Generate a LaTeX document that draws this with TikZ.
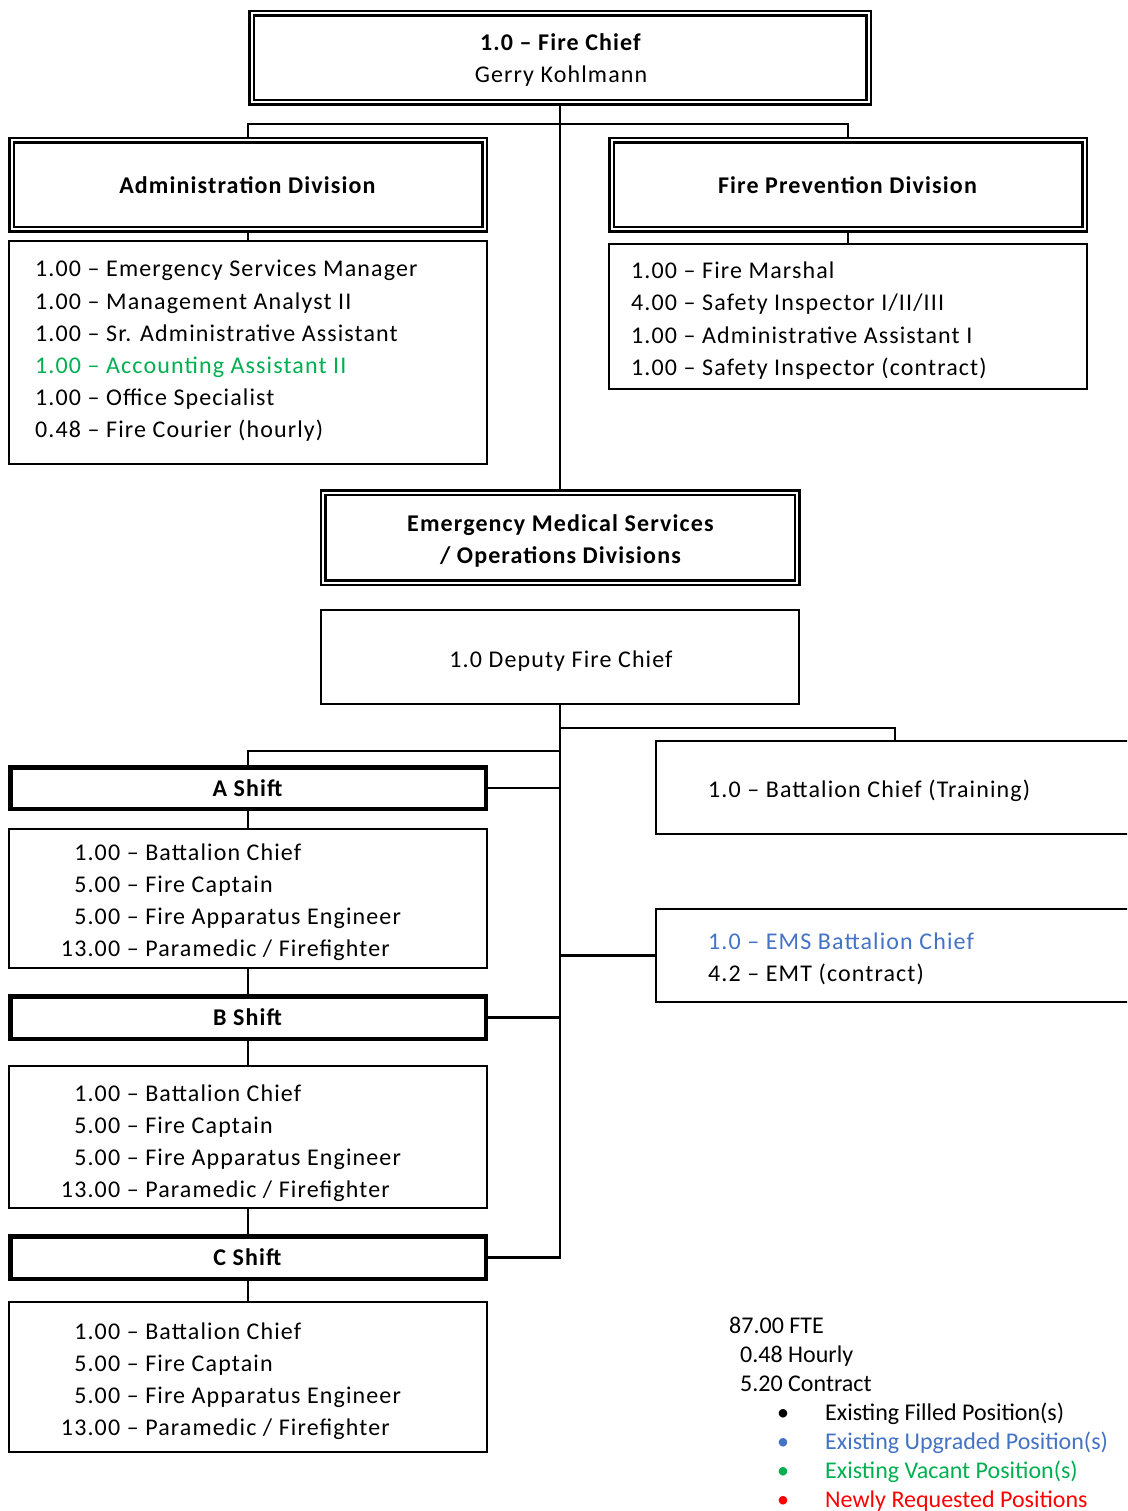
\documentclass[tikz,border=0pt]{standalone}
\usepackage{fontspec}
\setmainfont{Carlito}
\newfontfamily\spfont{Carlito}[LetterSpace=4.7]
\definecolor{vgreen}{HTML}{00B050}
\definecolor{ublue}{HTML}{4472C4}
\definecolor{nred}{HTML}{FF0000}
\tikzset{
  bigf/.style={font=\fontsize{24}{32}\selectfont\spfont},
  legf/.style={font=\fontsize{24}{29}\selectfont},
  dbox/.style={draw, double, line width=2.5pt, double distance=2pt, inner sep=0pt, outer sep=3.5pt, bigf, align=center},
  sbox/.style={draw, line width=2pt, inner sep=0pt, outer sep=1pt, bigf, align=center},
  shbox/.style={draw, line width=4.5pt, inner sep=0pt, outer sep=2.25pt, bigf, align=center},
  item/.style={bigf, inner sep=0pt, anchor=base west},
  citem/.style={bigf, inner sep=0pt, anchor=base},
  litem/.style={legf, inner sep=0pt, anchor=base west},
  conn/.style={line width=2.6pt},
}
\newcommand{\nm}[1]{\llap{#1}}
\begin{document}
\begin{tikzpicture}[x=1pt,y=-1pt]
\useasboundingbox (0,0) rectangle (1127,1511);
\clip (0,0) rectangle (1127,1511);

% boxes
\node[dbox, minimum width=617pt, minimum height=89pt] (chief) at (560,58) {};
\node[dbox, minimum width=473pt, minimum height=89pt] (admindiv) at (248,185) {\textbf{Administration Division}};
\node[dbox, minimum width=473pt, minimum height=89pt] (fpdiv) at (848,185) {\textbf{Fire Prevention Division}};
\node[sbox, minimum width=478pt, minimum height=223pt] (adminlist) at (248,352.5) {};
\node[sbox, minimum width=478pt, minimum height=145pt] (fplist) at (848,316.5) {};
\node[dbox, minimum width=474pt, minimum height=90pt] (ems) at (560,537.5) {};
\node[sbox, minimum width=478pt, minimum height=94pt] (deputy) at (560,657) {};

\node[shbox, minimum width=475.5pt, minimum height=41.5pt] (ashift) at (248,788) {\textbf{A Shift}};
\node[sbox, minimum width=478pt, minimum height=139pt] (alist) at (248,898.5) {};
\node[shbox, minimum width=475.5pt, minimum height=42.5pt] (bshift) at (248,1017.5) {\textbf{B Shift}};
\node[sbox, minimum width=478pt, minimum height=142pt] (blist) at (248,1137) {};
\node[shbox, minimum width=475.5pt, minimum height=42.5pt] (cshift) at (248,1257.5) {\textbf{C Shift}};
\node[sbox, minimum width=478pt, minimum height=150pt] (clist) at (248,1377) {};

\node[sbox, minimum width=478pt, minimum height=93pt] (bctrain) at (895,787.5) {};
\node[sbox, minimum width=478pt, minimum height=93pt] (emsbc) at (895,955.5) {};

% box titles
\node[citem] (chief1) at (561,51) {\textbf{1.0 – Fire Chief}};
\node[citem] (chief2) at (561,83) {Gerry Kohlmann};
\node[citem] (ems1) at (561,531) {\textbf{Emergency Medical Services}};
\node[citem] (ems2) at (561,563) {\textbf{/ Operations Divisions}};
\node[citem] (dep1) at (561,667) {1.0 Deputy Fire Chief};

% connectors
\draw[conn] (chief.south) -- (ems.north);
\draw[conn] (admindiv.north) -- ++(0,-13) -| (fpdiv.north);
\draw[conn] (admindiv.south) -- (adminlist.north);
\draw[conn] (fpdiv.south) -- (fplist.north);
\draw[conn] (deputy.south) |- (cshift.east);
\draw[conn] (ashift.north) -- ++(0,-14) -| (deputy.south);
\draw[conn] (bctrain.north) -- ++(0,-12) -| (deputy.south);
\draw[conn] (ashift.east) -- (ashift.east -| deputy.south);
\draw[conn] (bshift.east) -- (bshift.east -| deputy.south);
\draw[conn] (emsbc.west) -- (emsbc.west -| deputy.south);
\draw[conn] (ashift.south) -- (alist.north);
\draw[conn] (alist.south) -- (bshift.north);
\draw[conn] (bshift.south) -- (blist.north);
\draw[conn] (blist.south) -- (cshift.north);
\draw[conn] (cshift.south) -- (clist.north);

% admin list
\node[item] (ad1) at (35,277) {1.00 – Emergency Services Manager};
\node[item] (ad2) at (35,309) {1.00 – Management Analyst II};
\node[item] (ad3) at (35,341) {1.00 – Sr. Administrative Assistant};
\node[item, text=vgreen] (ad4) at (35,373) {1.00 – Accounting Assistant II};
\node[item] (ad5) at (35,405) {1.00 – Office Specialist};
\node[item] (ad6) at (35,437) {0.48 – Fire Courier (hourly)};

% fire prevention list
\node[item] (fp1) at (631,279) {1.00 – Fire Marshal};
\node[item] (fp2) at (631,311) {4.00 – Safety Inspector I/II/III};
\node[item] (fp3) at (631,343) {1.00 – Administrative Assistant I};
\node[item] (fp4) at (631,375) {1.00 – Safety Inspector (contract)};

% shift lists
\node[item] (a1) at (120,860) {\nm{1.00} – Battalion Chief};
\node[item] (a2) at (120,892) {\nm{5.00} – Fire Captain};
\node[item] (a3) at (120,924) {\nm{5.00} – Fire Apparatus Engineer};
\node[item] (a4) at (120,956) {\nm{13.00} – Paramedic / Firefighter};

\node[item] (b1) at (120,1101) {\nm{1.00} – Battalion Chief};
\node[item] (b2) at (120,1133) {\nm{5.00} – Fire Captain};
\node[item] (b3) at (120,1165) {\nm{5.00} – Fire Apparatus Engineer};
\node[item] (b4) at (120,1197) {\nm{13.00} – Paramedic / Firefighter};

\node[item] (c1) at (120,1339) {\nm{1.00} – Battalion Chief};
\node[item] (c2) at (120,1371) {\nm{5.00} – Fire Captain};
\node[item] (c3) at (120,1403) {\nm{5.00} – Fire Apparatus Engineer};
\node[item] (c4) at (120,1435) {\nm{13.00} – Paramedic / Firefighter};

% right boxes
\node[item] (bct) at (708,797) {1.0 – Battalion Chief (Training)};
\node[item, text=ublue] (eb1) at (708,949) {1.0 – EMS Battalion Chief};
\node[item] (eb2) at (708,981) {4.2 – EMT (contract)};

% legend
\node[litem] (fte) at (729,1333) {87.00 FTE};
\node[litem] (hrl) at (740,1362) {0.48 Hourly};
\node[litem] (ctr) at (740,1391) {5.20 Contract};
\node[legf, inner sep=0pt, anchor=base] (bu1) at (783,1420) {•};
\node[legf, inner sep=0pt, anchor=base, text=ublue] (bu2) at (783,1449) {•};
\node[legf, inner sep=0pt, anchor=base, text=vgreen] (bu3) at (783,1478) {•};
\node[legf, inner sep=0pt, anchor=base, text=nred] (bu4) at (783,1507) {•};
\node[litem] (lg1) at (825,1420) {Existing Filled Position(s)};
\node[litem, text=ublue] (lg2) at (825,1449) {Existing Upgraded Position(s)};
\node[litem, text=vgreen] (lg3) at (825,1478) {Existing Vacant Position(s)};
\node[litem, text=nred] (lg4) at (825,1507) {Newly Requested Positions};
\end{tikzpicture}
\end{document}
